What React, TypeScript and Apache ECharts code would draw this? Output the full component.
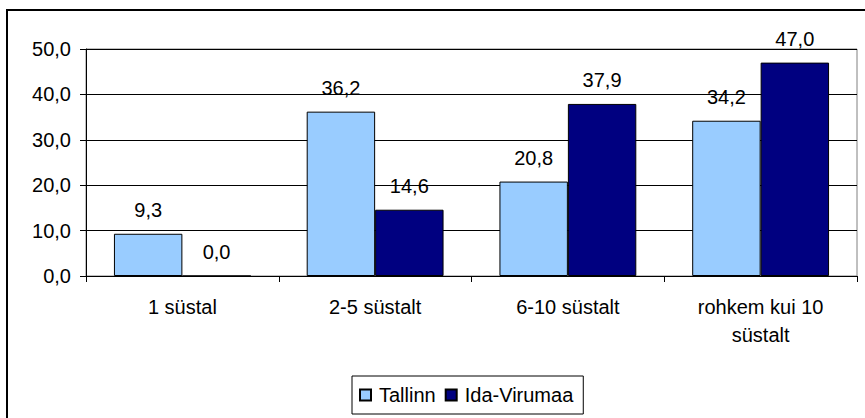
import React, { useEffect, useRef } from "react";
import * as echarts from "echarts";

const categories = ["1 süstal", "2-5 süstalt", "6-10 süstalt", "rohkem kui 10\nsüstalt"];
const tallinn = [9.3, 36.2, 20.8, 34.2];
const idaVirumaa = [0.0, 14.6, 37.9, 47.0];
const seriesNames = ["Tallinn", "Ida-Virumaa"];

const FONT = '"Liberation Sans", Arial, sans-serif';
const FS = 20;
const fmt = (v: number) => Number(v).toFixed(1).replace(".", ",");

export default function App() {
  const ref = useRef<HTMLDivElement>(null);
  useEffect(() => {
    if (!ref.current) return;
    const chart = echarts.init(ref.current, null, { renderer: "svg" });
    const labelCfg = {
      show: true,
      position: "top" as const,
      distance: 14,
      color: "#000",
      fontSize: FS,
      fontFamily: FONT,
      formatter: (p: any) => fmt(p.value),
    };
    chart.setOption({
      animation: false,
      backgroundColor: "#fff",
      textStyle: { fontFamily: FONT, color: "#000" },
      graphic: [
        {
          type: "rect",
          shape: { x: 7, y: 10, width: 900, height: 500 },
          style: { fill: "none", stroke: "#000", lineWidth: 2 },
          silent: true,
        },
      ],
      grid: {
        left: 86,
        right: 8,
        top: 49,
        bottom: 142,
        show: true,
        borderColor: "#808080",
        borderWidth: 1,
        containLabel: false,
      },
      legend: {
        data: seriesNames,
        left: 352,
        top: 376,
        orient: "horizontal",
        padding: [9, 10, 9, 7],
        itemGap: 9,
        itemWidth: 11,
        itemHeight: 11,
        icon: "rect",
        borderColor: "#000",
        borderWidth: 1,
        textStyle: {
          fontSize: FS,
          fontFamily: FONT,
          color: "#000",
          padding: [0, 0, 0, 3],
        },
      },
      xAxis: {
        type: "category",
        data: categories,
        axisLine: { show: true, lineStyle: { color: "#000", width: 1 } },
        axisTick: { show: true, length: 6, alignWithLabel: false, lineStyle: { color: "#000" } },
        axisLabel: {
          color: "#000",
          fontSize: FS,
          fontFamily: FONT,
          margin: 17,
          lineHeight: 28,
          interval: 0,
        },
        splitLine: { show: false },
      },
      yAxis: {
        type: "value",
        min: 0,
        max: 50,
        interval: 10,
        axisLine: { show: true, lineStyle: { color: "#000", width: 1 } },
        axisTick: { show: true, length: 6, lineStyle: { color: "#000" } },
        axisLabel: {
          color: "#000",
          fontSize: FS,
          fontFamily: FONT,
          margin: 15,
          formatter: (v: number) => fmt(v),
        },
        splitLine: { show: true, lineStyle: { color: "#000", width: 1 } },
      },
      series: [
        {
          name: seriesNames[0],
          type: "bar",
          data: tallinn,
          barGap: "0%",
          barCategoryGap: "29%",
          itemStyle: { color: "#99CCFF", borderColor: "#000", borderWidth: 1 },
          label: labelCfg,
        },
        {
          name: seriesNames[1],
          type: "bar",
          data: idaVirumaa,
          barGap: "0%",
          barCategoryGap: "29%",
          itemStyle: { color: "#000080", borderColor: "#000", borderWidth: 1 },
          label: labelCfg,
        },
      ],
    });
    return () => chart.dispose();
  }, []);
  return (
    <div
      ref={ref}
      style={{ position: "fixed", left: 0, top: 0, width: 865, height: 418 }}
    />
  );
}
